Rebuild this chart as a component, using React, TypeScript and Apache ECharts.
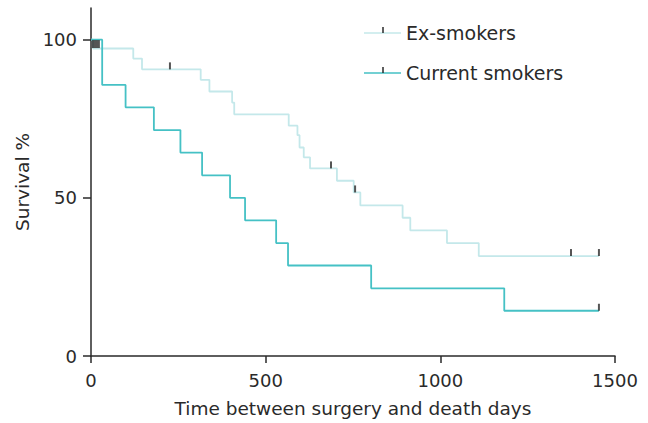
import React, { useEffect, useRef } from "react";
import * as echarts from "echarts";

const exDays = [0, 6, 121, 146, 314, 339, 404, 410, 566, 591, 597, 609, 627, 704, 752, 771, 892, 914, 1019, 1110, 1454];
const exSurv = [100, 97.2, 94.0, 90.6, 87.3, 83.6, 80.1, 76.4, 72.8, 69.8, 65.9, 62.8, 59.3, 55.4, 51.7, 47.6, 43.7, 39.7, 35.7, 31.6, 31.6];
const curDays = [0, 32, 99, 180, 256, 318, 398, 441, 530, 564, 802, 1183, 1454];
const curSurv = [100, 85.7, 78.6, 71.4, 64.3, 57.1, 50.0, 42.9, 35.7, 28.6, 21.4, 14.3, 14.3];
const exCensorDays = [226, 687, 756, 1374, 1454];
const exCensorSurv = [90.6, 59.3, 51.7, 31.6, 31.6];
const curCensorDays = [1454];
const curCensorSurv = [14.3];
const clusterDays = [14];
const clusterSurv = [98.6];
const xTicks = [0, 500, 1000, 1500];
const yTicks = [0, 50, 100];
const seriesNames = ["Ex-smokers", "Current smokers"];

const FONT = "DejaVu Sans";
const EX_COLOR = "#c4e8ea";
const CUR_COLOR = "#45c1c5";
const INK = "#2a2a2a";

export default function App() {
  const ref = useRef<HTMLDivElement>(null);
  useEffect(() => {
    if (!ref.current) return;
    const chart = echarts.init(ref.current, null, { renderer: "svg" });
    const zip = (a: number[], b: number[]) => a.map((v, i) => [v, b[i]]);
    const legendItem = (name: string, color: string, y: number) => [
      { type: "line", shape: { x1: 364, y1: y, x2: 401, y2: y }, style: { stroke: color, lineWidth: 1.5 } },
      { type: "line", shape: { x1: 383, y1: y - 6, x2: 383, y2: y }, style: { stroke: INK, lineWidth: 1.5 } },
      {
        type: "text",
        x: 406,
        y: y,
        style: { text: name, fontFamily: FONT, fontSize: 19, fill: INK, verticalAlign: "middle", align: "left" },
      },
    ];
    chart.setOption({
      animation: false,
      backgroundColor: "#ffffff",
      grid: { left: 91, right: 33, top: 8, bottom: 66 },
      xAxis: {
        type: "value",
        min: 0,
        max: 1500,
        interval: 500,
        name: "Time between surgery and death days",
        nameLocation: "middle",
        nameGap: 43,
        nameTextStyle: { fontFamily: FONT, fontSize: 18.5, color: INK },
        axisLine: { show: true, lineStyle: { color: INK, width: 1.5 } },
        axisTick: { show: true, length: 7, lineStyle: { color: INK, width: 1.5 } },
        axisLabel: {
          fontFamily: FONT,
          fontSize: 18,
          color: INK,
          margin: 15,
          customValues: xTicks,
          formatter: (v: number) => String(v),
        },
        splitLine: { show: false },
      },
      yAxis: {
        type: "value",
        min: 0,
        max: 110,
        interval: 50,
        name: "Survival %",
        nameLocation: "middle",
        nameGap: 56,
        nameTextStyle: { fontFamily: FONT, fontSize: 18.5, color: INK },
        axisLine: { show: true, lineStyle: { color: INK, width: 1.5 } },
        axisTick: { show: true, length: 8, lineStyle: { color: INK, width: 1.5 }, customValues: yTicks },
        axisLabel: {
          fontFamily: FONT,
          fontSize: 18,
          color: INK,
          margin: 14,
          customValues: yTicks,
          formatter: (v: number) => String(v),
        },
        splitLine: { show: false },
      },
      series: [
        {
          name: seriesNames[0],
          type: "line",
          step: "end",
          data: zip(exDays, exSurv),
          showSymbol: false,
          lineStyle: { color: EX_COLOR, width: 1.8 },
          z: 2,
        },
        {
          name: seriesNames[1],
          type: "line",
          step: "end",
          data: zip(curDays, curSurv),
          showSymbol: false,
          lineStyle: { color: CUR_COLOR, width: 1.8 },
          z: 3,
        },
        {
          type: "scatter",
          data: zip(exCensorDays, exCensorSurv).concat(zip(curCensorDays, curCensorSurv)),
          symbol: "rect",
          symbolSize: [2, 7],
          symbolOffset: [0, -3.5],
          itemStyle: { color: INK },
          z: 5,
        },
        {
          type: "scatter",
          data: zip(clusterDays, clusterSurv),
          symbol: "rect",
          symbolSize: [8, 8],
          itemStyle: { color: INK },
          z: 5,
        },
      ],
      graphic: [...legendItem(seriesNames[0], EX_COLOR, 33), ...legendItem(seriesNames[1], CUR_COLOR, 73)],
    });
    return () => chart.dispose();
  }, []);
  return <div ref={ref} style={{ position: "absolute", left: 0, top: 0, width: 648, height: 423 }} />;
}
